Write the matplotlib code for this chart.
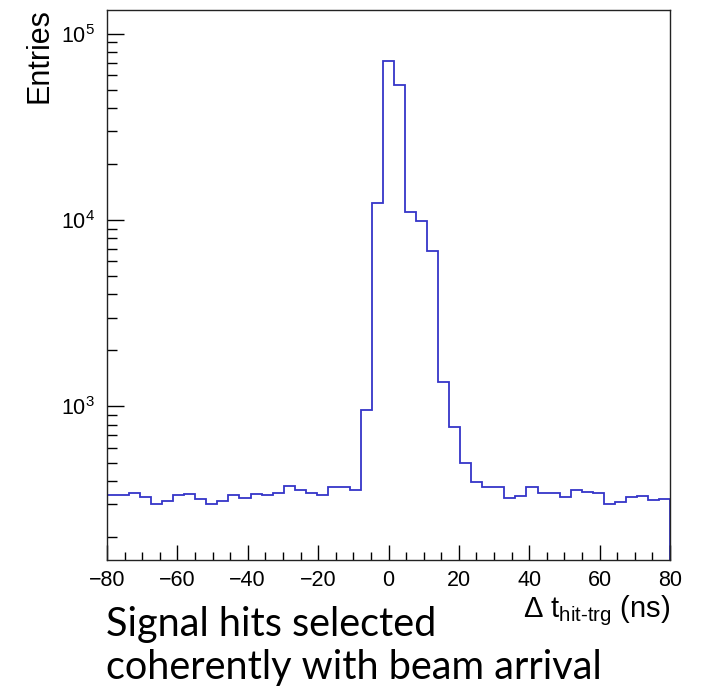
import numpy as np
import matplotlib
matplotlib.use("Agg")
import matplotlib.pyplot as plt
from matplotlib.ticker import LogLocator, FixedLocator, MultipleLocator, FuncFormatter

plt.rcParams["font.family"] = ["Liberation Sans", "DejaVu Sans"]
plt.rcParams["mathtext.fontset"] = "custom"
plt.rcParams["mathtext.rm"] = "Liberation Sans"
plt.rcParams["mathtext.it"] = "Liberation Sans:italic"
plt.rcParams["mathtext.bf"] = "Liberation Sans:bold"

# histogram: 51 bins between -80 and 80 ns
x_min, x_max = -80, 80
n_bins = 51
counts = [333, 333, 345, 325, 301, 311, 333, 340, 318, 301,
          311, 336, 324, 339, 333, 343, 376, 356, 345, 334,
          368, 371, 356, 960, 12300, 71500, 53000, 11100, 9900, 6800,
          1360, 780, 495, 393, 371, 371, 322, 331, 371, 345,
          343, 325, 354, 347, 343, 298, 308, 325, 331, 315,
          320]
y_ticks = [1e3, 1e4, 1e5]
caption = ["Signal hits selected", "coherently with beam arrival"]

edges = np.linspace(x_min, x_max, n_bins + 1)

fig = plt.figure(figsize=(7.02, 6.90), dpi=100)
ax = fig.add_axes([107 / 702, 1 - 560 / 690, 563 / 702, 550 / 690])

ax.stairs(counts, edges, color="#3535c8", linewidth=1.3)

ax.set_yscale("log")
ax.set_xlim(x_min, x_max)
ax.set_ylim(150, 1.34e5)

ax.xaxis.set_major_locator(MultipleLocator(20))
ax.xaxis.set_minor_locator(MultipleLocator(5))
ax.yaxis.set_major_locator(FixedLocator(y_ticks))
ax.yaxis.set_minor_locator(LogLocator(base=10, subs=np.arange(2, 10)))
ax.yaxis.set_major_formatter(FuncFormatter(lambda v, p: r"$10^{%d}$" % round(np.log10(v))))
ax.yaxis.set_minor_formatter(FuncFormatter(lambda v, p: ""))

ax.tick_params(axis="both", which="both", direction="in", top=False, right=False, labelsize=15.5)
ax.tick_params(axis="x", which="major", length=11, width=1, pad=7)
ax.tick_params(axis="x", which="minor", length=5.5, width=1)
ax.tick_params(axis="y", which="major", length=12, width=1, pad=9)
ax.tick_params(axis="y", which="minor", length=7, width=1)

for s in ax.spines.values():
    s.set_linewidth(1.0)
    s.set_color("#222222")

fig.text(40 / 702, 1 - 8 / 690, "Entries", rotation=90, ha="center", va="top", fontsize=22)
fig.text(670 / 702, 1 - 611 / 690, r"$\Delta$ t$_{\mathregular{hit\text{-}trg}}$ (ns)",
         ha="right", va="center", fontsize=21)

# caption below the plot, one text per line
for line, base_y in zip(caption, [636, 679]):
    fig.text(106 / 702, 1 - base_y / 690, line, ha="left", va="baseline",
             fontsize=28.5, family=["Lato", "DejaVu Sans"])

fig.savefig("out.png", dpi=100)
